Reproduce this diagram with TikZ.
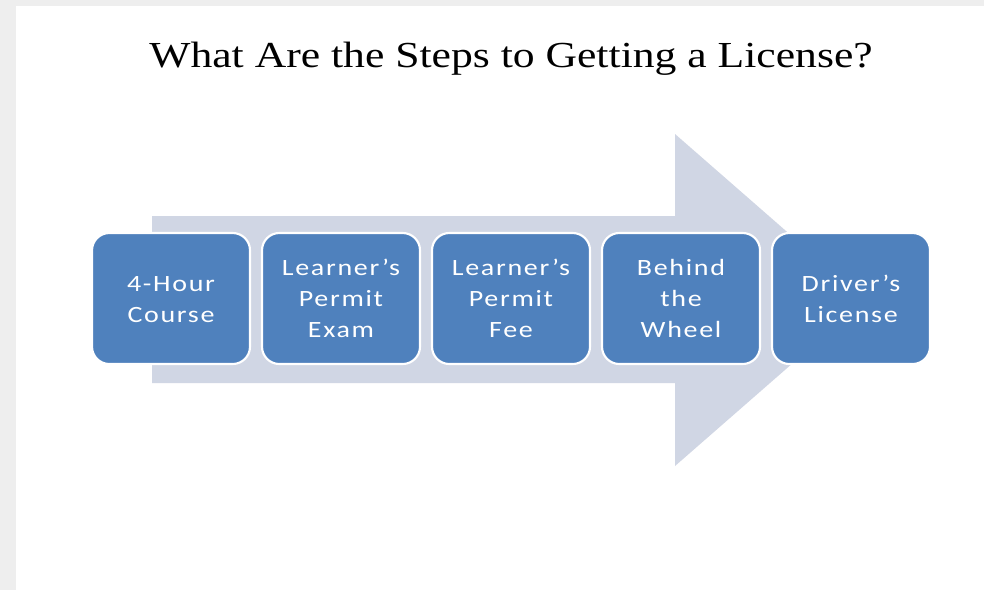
\documentclass[tikz,border=0pt]{standalone}
\usepackage{fontspec}
\usepackage{graphicx}
\setmainfont{Liberation Serif}
\newfontfamily\boxfont[LetterSpace=6]{Carlito}
\definecolor{pagegray}{HTML}{EEEEEE}
\definecolor{arrowfill}{HTML}{D0D6E4}
\definecolor{stepblue}{HTML}{4F81BD}
\newcommand{\steptext}[1]{\raisebox{-1.5pt}[\height][\depth]{\scalebox{1.2}[1]{\begin{tabular}{@{}c@{}}#1\end{tabular}}}}
\tikzset{
  stepbox/.style={draw=white, line width=1.6pt, fill=stepblue, rounded corners=13pt,
    minimum width=118.5pt, minimum height=98.25pt, inner sep=0pt,
    text=white, align=center, font=\boxfont\fontsize{17.5}{23.25}\selectfont},
  titletext/.style={font=\fontsize{27.5}{32}\selectfont, text=black, inner sep=0pt}
}
\begin{document}
\begin{tikzpicture}[x=0.75pt,y=-0.75pt]
\useasboundingbox (0,0) rectangle (984,590);
\fill[pagegray] (0,0) rectangle (984,590);
\fill[white] (16,6) rectangle (984,590);
\node[titletext] (title) at (511,59) {\scalebox{1.19}[1]{What Are the Steps to Getting a License?}};
\fill[arrowfill] (152,216) -- (675,216) -- (675,134) -- (865,300) -- (675,466) -- (675,383) -- (152,383) -- cycle;
\node[stepbox] (s1) at (171,298.5) {\steptext{4-Hour\\Course}};
\node[stepbox] (s2) at (341,298.5) {\steptext{Learner’s\\Permit\\Exam}};
\node[stepbox] (s3) at (511,298.5) {\steptext{Learner’s\\Permit\\Fee}};
\node[stepbox] (s4) at (681,298.5) {\steptext{Behind\\the\\Wheel}};
\node[stepbox] (s5) at (851,298.5) {\steptext{Driver’s\\License}};
\end{tikzpicture}
\end{document}
